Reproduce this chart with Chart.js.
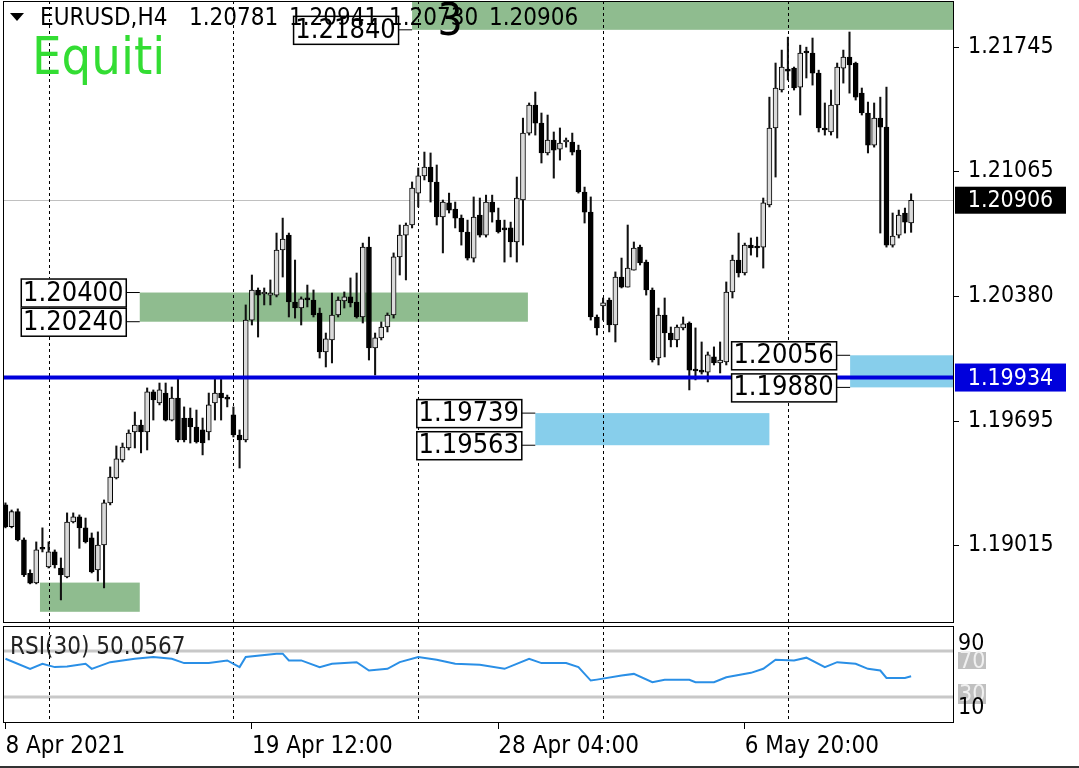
<!DOCTYPE html>
<html>
<head>
<meta charset="utf-8">
<title>EURUSD H4</title>
<script src="https://cdn.jsdelivr.net/npm/chart.js@4.4.1/dist/chart.umd.min.js"></script>
<style>
  body { margin: 0; background: #fff; }
  #wrap { position: relative; width: 1079px; height: 768px; overflow: hidden; }
  #priceChart { position: absolute; left: 0; top: 0; }
  #rsiChart { position: absolute; left: 0; top: 622px; }
</style>
</head>
<body>
<div id="wrap">
  <canvas id="priceChart" width="1079" height="624"></canvas>
  <canvas id="rsiChart" width="1079" height="146"></canvas>
</div>
<script>
const FONT = "'DejaVu Sans Condensed', 'DejaVu Sans', sans-serif";

// H4 candles, first bar is 8 Apr 2021 20:00
const opens = [1.19236, 1.19117, 1.19199, 1.19044, 1.18861, 1.18808, 1.18998, 1.18896, 1.18978, 1.18890,
  1.18841, 1.19142, 1.19170, 1.19110, 1.19055, 1.18880, 1.19016, 1.19247, 1.19384, 1.19482,
  1.19548, 1.19636, 1.19674, 1.19636, 1.19855, 1.19795, 1.19849, 1.19701, 1.19822, 1.19712,
  1.19712, 1.19663, 1.19647, 1.19636, 1.19795, 1.19849, 1.19827, 1.19729, 1.19619, 1.19592,
  1.20249, 1.20414, 1.20392, 1.20386, 1.20386, 1.20633, 1.20715, 1.20348, 1.20315, 1.20365,
  1.20359, 1.20288, 1.20074, 1.20140, 1.20277, 1.20354, 1.20376, 1.20348, 1.20266, 1.20649,
  1.20096, 1.20151, 1.20211, 1.20277, 1.20595, 1.20715, 1.20770, 1.20945, 1.21039, 1.21088,
  1.21006, 1.20814, 1.20891, 1.20858, 1.20808, 1.20732, 1.20589, 1.20825, 1.20715, 1.20896,
  1.20797, 1.20748, 1.20754, 1.20677, 1.20907, 1.21274, 1.21428, 1.21329, 1.21165, 1.21236,
  1.21186, 1.21225, 1.21225, 1.21181, 1.20951, 1.20841, 1.20266, 1.20326, 1.20359, 1.20222,
  1.20485, 1.20430, 1.20523, 1.20649, 1.20567, 1.20414, 1.20041, 1.20277, 1.20178, 1.20140,
  1.20206, 1.20233, 1.19975, 1.19970, 1.19964, 1.20047, 1.20014, 1.20019, 1.20403, 1.20578,
  1.20507, 1.20660, 1.20649, 1.20649, 1.20880, 1.21302, 1.21510, 1.21619, 1.21630, 1.21526,
  1.21724, 1.21713, 1.21603, 1.21296, 1.21280, 1.21428, 1.21630, 1.21691, 1.21658, 1.21493,
  1.21384, 1.21208, 1.21356, 1.21307, 1.20660, 1.20715, 1.20836, 1.20781];
const highs = [1.19247, 1.19208, 1.19214, 1.19055, 1.18880, 1.19033, 1.19110, 1.19033, 1.18989, 1.18945,
  1.19192, 1.19192, 1.19181, 1.19164, 1.19082, 1.19088, 1.19263, 1.19444, 1.19559, 1.19575,
  1.19647, 1.19745, 1.19701, 1.19877, 1.19866, 1.19904, 1.19904, 1.19882, 1.19932, 1.19773,
  1.19767, 1.19756, 1.19712, 1.19849, 1.19932, 1.19932, 1.19838, 1.19773, 1.19647, 1.20332,
  1.20496, 1.20425, 1.20425, 1.20469, 1.20726, 1.20808, 1.20726, 1.20578, 1.20376, 1.20441,
  1.20414, 1.20315, 1.20178, 1.20397, 1.20376, 1.20403, 1.20480, 1.20507, 1.20671, 1.20704,
  1.20178, 1.20239, 1.20288, 1.20617, 1.20770, 1.20781, 1.21006, 1.21083, 1.21170, 1.21165,
  1.21099, 1.20907, 1.20945, 1.20896, 1.20825, 1.20797, 1.20924, 1.20918, 1.20934, 1.20934,
  1.20863, 1.20797, 1.20786, 1.21033, 1.21356, 1.21439, 1.21499, 1.21384, 1.21373, 1.21280,
  1.21302, 1.21247, 1.21274, 1.21208, 1.20978, 1.20924, 1.20277, 1.20370, 1.20370, 1.20513,
  1.20589, 1.20770, 1.20677, 1.20660, 1.20578, 1.20425, 1.20315, 1.20370, 1.20211, 1.20222,
  1.20266, 1.20239, 1.20206, 1.20129, 1.20074, 1.20102, 1.20129, 1.20458, 1.20605, 1.20726,
  1.20671, 1.20699, 1.20704, 1.20918, 1.21471, 1.21658, 1.21729, 1.21800, 1.21636, 1.21756,
  1.21745, 1.21795, 1.21619, 1.21439, 1.21510, 1.21658, 1.21729, 1.21828, 1.21663, 1.21521,
  1.21444, 1.21439, 1.21471, 1.21526, 1.20836, 1.20852, 1.20863, 1.20941];
const lows = [1.19110, 1.19110, 1.19038, 1.18843, 1.18803, 1.18803, 1.18978, 1.18890, 1.18890, 1.18715,
  1.18836, 1.19137, 1.18998, 1.19027, 1.18863, 1.18819, 1.18781, 1.19236, 1.19378, 1.19471,
  1.19537, 1.19548, 1.19521, 1.19537, 1.19701, 1.19784, 1.19696, 1.19696, 1.19581, 1.19581,
  1.19575, 1.19575, 1.19510, 1.19592, 1.19701, 1.19701, 1.19773, 1.19608, 1.19438, 1.19581,
  1.20222, 1.20156, 1.20332, 1.20332, 1.20376, 1.20485, 1.20266, 1.20260, 1.20222, 1.20321,
  1.20266, 1.20041, 1.19992, 1.20014, 1.20266, 1.20315, 1.20321, 1.20260, 1.20233, 1.20030,
  1.19948, 1.20140, 1.20184, 1.20260, 1.20496, 1.20469, 1.20754, 1.20869, 1.21017, 1.20896,
  1.20770, 1.20617, 1.20836, 1.20754, 1.20660, 1.20578, 1.20567, 1.20704, 1.20704, 1.20786,
  1.20726, 1.20567, 1.20595, 1.20567, 1.20660, 1.21263, 1.21263, 1.21110, 1.21154, 1.21027,
  1.21126, 1.21197, 1.21154, 1.20945, 1.20781, 1.20249, 1.20167, 1.20249, 1.20184, 1.20129,
  1.20425, 1.20430, 1.20523, 1.20551, 1.20386, 1.20019, 1.20003, 1.20047, 1.20102, 1.20102,
  1.20195, 1.19866, 1.19921, 1.19953, 1.19910, 1.20003, 1.19959, 1.20003, 1.20370, 1.20485,
  1.20496, 1.20605, 1.20595, 1.20534, 1.20869, 1.21033, 1.21499, 1.21565, 1.21510, 1.21373,
  1.21576, 1.21537, 1.21280, 1.21263, 1.21263, 1.21247, 1.21548, 1.21493, 1.21455, 1.21373,
  1.21165, 1.21197, 1.20726, 1.20649, 1.20649, 1.20699, 1.20726, 1.20730];
const closes = [1.19115, 1.19199, 1.19044, 1.18852, 1.18807, 1.18989, 1.18993, 1.18978, 1.18907, 1.18852,
  1.19142, 1.19170, 1.19110, 1.19033, 1.18869, 1.19016, 1.19247, 1.19389, 1.19488, 1.19553,
  1.19630, 1.19674, 1.19636, 1.19855, 1.19811, 1.19866, 1.19701, 1.19822, 1.19592, 1.19592,
  1.19663, 1.19581, 1.19575, 1.19784, 1.19849, 1.19822, 1.19816, 1.19619, 1.19592, 1.20249,
  1.20414, 1.20386, 1.20397, 1.20397, 1.20633, 1.20693, 1.20348, 1.20315, 1.20365, 1.20360,
  1.20277, 1.20074, 1.20146, 1.20277, 1.20359, 1.20376, 1.20343, 1.20266, 1.20649, 1.20096,
  1.20151, 1.20211, 1.20277, 1.20595, 1.20715, 1.20770, 1.20973, 1.21039, 1.21088, 1.21006,
  1.20814, 1.20896, 1.20852, 1.20808, 1.20732, 1.20589, 1.20814, 1.20715, 1.20896, 1.20841,
  1.20732, 1.20743, 1.20677, 1.20918, 1.21274, 1.21428, 1.21329, 1.21165, 1.21236, 1.21181,
  1.21219, 1.21230, 1.21170, 1.20951, 1.20841, 1.20266, 1.20206, 1.20343, 1.20222, 1.20485,
  1.20430, 1.20534, 1.20644, 1.20562, 1.20414, 1.20030, 1.20277, 1.20178, 1.20140, 1.20211,
  1.20228, 1.19975, 1.19970, 1.19964, 1.20058, 1.20014, 1.20030, 1.20403, 1.20578, 1.20507,
  1.20660, 1.20644, 1.20644, 1.20891, 1.21302, 1.21521, 1.21636, 1.21614, 1.21521, 1.21713,
  1.21713, 1.21603, 1.21302, 1.21291, 1.21428, 1.21636, 1.21691, 1.21647, 1.21471, 1.21384,
  1.21208, 1.21356, 1.21307, 1.20660, 1.20710, 1.20825, 1.20786, 1.20906];

// right price scale
const priceTicks = [1.19015, 1.19695, 1.20380, 1.21065, 1.21745];
const bidPrice = 1.20906;
const linePrice = 1.19934;

// bar numbers of the week separators and the dated ticks
const weekStarts = [7, 37, 67, 97, 127];
const dateTicks = [0, 40, 80, 120];
const dateLabels = ['8 Apr 2021', '19 Apr 12:00', '28 Apr 04:00', '6 May 20:00'];

// zones drawn on the chart (start bar, end bar, top, bottom)
const zoneStart = [66, 21.8, 5.6, 86, 137.1];
const zoneEnd = [160, 84.8, 21.8, 124, 160];
const zoneTop = [1.22100, 1.20400, 1.18810, 1.19739, 1.20056];
const zoneBottom = [1.21840, 1.20240, 1.18650, 1.19563, 1.19880];
const zoneKind = ['supply', 'supply', 'supply', 'demand', 'demand'];
const zoneLabels = [[1.21840], [1.20400, 1.20240], [], [1.19739, 1.19563], [1.20056, 1.19880]];

// RSI(30), read at these bars
const rsiBars = [0, 4, 6, 8, 10, 13, 14, 17, 21, 24, 27, 29, 33, 36, 38, 39, 44, 45, 46, 48,
  51, 53, 57, 59, 62, 64, 67, 70, 73, 77, 81, 85, 87, 91, 93, 95, 96, 100, 102, 105,
  107, 111, 112, 115, 117, 121, 123, 125, 128, 130, 133, 135, 138, 140, 142, 143, 146, 147];
const rsiValues = [63.3, 54.5, 58.9, 56.0, 56.5, 58.9, 54.5, 60.3, 63.3, 64.8, 63.3, 59.5, 59.5, 61.8, 56.0, 64.8, 67.7, 67.7, 61.8, 61.8,
  56.0, 58.9, 60.3, 53.0, 54.5, 60.3, 64.8, 62.4, 58.9, 58.0, 54.5, 63.3, 59.5, 59.5, 56.0, 44.3, 45.1, 48.6, 50.1, 42.8,
  44.9, 44.9, 42.8, 42.8, 47.2, 51.0, 54.5, 62.4, 61.8, 64.2, 56.0, 60.3, 58.9, 54.5, 53.0, 46.6, 46.6, 48.0];
const rsiLevels = [70, 30];
const rsiTitle = 'RSI(30) 50.0567';

const X_MIN = -0.4, X_MAX = 153.8;

// candles = a thin bar for the wick and a fat bar for the body
const bars = opens.map((_, i) => i);
const wickSet = {
  data: bars.map(i => ({ x: i, y: [lows[i], highs[i]] })),
  backgroundColor: '#111', barThickness: 1.4, grouped: false, order: 2
};
const bodySet = {
  data: bars.map(i => ({ x: i, y: [opens[i], closes[i]] })),
  backgroundColor: bars.map(i => closes[i] > opens[i] ? '#dadada' : '#000000'),
  borderColor: '#000', borderWidth: 1, borderSkipped: false,
  barThickness: 5, minBarLength: 2, grouped: false, order: 1
};

function priceBox(ctx, text, x, yc, w, h, bg, fg, size, border) {
  ctx.fillStyle = bg;
  ctx.fillRect(x, yc - h / 2, w, h);
  if (border) {
    ctx.strokeStyle = '#000'; ctx.lineWidth = 1.5;
    ctx.strokeRect(x + 0.5, yc - h / 2 + 0.5, w, h);
  }
  ctx.fillStyle = fg;
  ctx.font = size + 'px ' + FONT;
  ctx.textBaseline = 'middle';
  ctx.textAlign = 'center';
  ctx.fillText(text, x + w / 2, yc + 1);
}

const priceOverlay = {
  id: 'priceOverlay',
  beforeDatasetsDraw(chart) {
    const { ctx, chartArea: a, scales: { x, y } } = chart;
    ctx.save();
    ctx.beginPath();
    ctx.rect(a.left, a.top, a.right - a.left, a.bottom - a.top);
    ctx.clip();
    zoneStart.forEach((s, i) => {
      const x1 = x.getPixelForValue(s), x2 = x.getPixelForValue(zoneEnd[i]);
      const y1 = y.getPixelForValue(zoneTop[i]), y2 = y.getPixelForValue(zoneBottom[i]);
      ctx.fillStyle = zoneKind[i] === 'supply' ? '#8fbc8f' : '#87ceeb';
      ctx.fillRect(x1, y1, x2 - x1, y2 - y1);
    });
    const by = Math.round(y.getPixelForValue(bidPrice)) + 0.5;
    ctx.strokeStyle = '#c0c0c0'; ctx.lineWidth = 1;
    ctx.beginPath(); ctx.moveTo(a.left, by); ctx.lineTo(a.right, by); ctx.stroke();
    ctx.strokeStyle = '#000'; ctx.setLineDash([3, 3]);
    weekStarts.forEach(w => {
      const px = Math.round(x.getPixelForValue(w)) + 0.5;
      ctx.beginPath(); ctx.moveTo(px, a.top); ctx.lineTo(px, a.bottom); ctx.stroke();
    });
    ctx.restore();
  },
  afterDatasetsDraw(chart) {
    const { ctx, chartArea: a, scales: { x, y } } = chart;
    ctx.save();
    // blue level line
    const ly = y.getPixelForValue(linePrice);
    ctx.strokeStyle = '#0000dc'; ctx.lineWidth = 4;
    ctx.beginPath(); ctx.moveTo(a.left, ly); ctx.lineTo(a.right, ly); ctx.stroke();

    // zone price labels
    zoneLabels.forEach((prices, i) => {
      const zx = x.getPixelForValue(zoneStart[i]);
      prices.forEach(p => {
        const py = y.getPixelForValue(p);
        ctx.strokeStyle = '#000'; ctx.lineWidth = 1;
        ctx.beginPath(); ctx.moveTo(zx - 14, py); ctx.lineTo(zx, py); ctx.stroke();
        priceBox(ctx, p.toFixed(5), zx - 119, py, 105, 28, '#fff', '#000', 27, true);
      });
    });

    // frame
    ctx.strokeStyle = '#000'; ctx.lineWidth = 1;
    ctx.strokeRect(a.left + 0.5, a.top + 0.5, a.right - a.left, a.bottom - a.top);

    // price tags on the right
    priceBox(ctx, bidPrice.toFixed(5), a.right + 2, y.getPixelForValue(bidPrice), 111, 27, '#000', '#fff', 23, false);
    priceBox(ctx, linePrice.toFixed(5), a.right + 2, ly, 111, 28, '#0000dc', '#fff', 23, false);

    // symbol line
    const last = opens.length - 1;
    ctx.fillStyle = '#000';
    ctx.beginPath(); ctx.moveTo(10, 13); ctx.lineTo(24, 13); ctx.lineTo(17, 21); ctx.closePath(); ctx.fill();
    ctx.font = '24px ' + FONT; ctx.textAlign = 'left'; ctx.textBaseline = 'middle';
    ctx.fillText('EURUSD,H4', 40, 19);
    [opens[last], highs[last], lows[last], closes[last]].forEach((v, k) => {
      ctx.fillText(v.toFixed(5), 189 + k * 100, 19);
    });
    ctx.font = '44px ' + FONT; ctx.textAlign = 'center';
    ctx.fillText('3', 450, 24);
    ctx.fillStyle = '#33dd33'; ctx.font = '52px ' + FONT; ctx.textAlign = 'left';
    ctx.fillText('Equiti', 32, 60);
    ctx.restore();
  }
};

new Chart(document.getElementById('priceChart'), {
  type: 'bar',
  data: { datasets: [wickSet, bodySet] },
  options: {
    responsive: false, animation: false, devicePixelRatio: 1,
    layout: { padding: { left: 3, top: 1, right: 0, bottom: 2 } },
    plugins: { legend: { display: false }, tooltip: { enabled: false } },
    scales: {
      x: { type: 'linear', min: X_MIN, max: X_MAX, offset: false, display: false },
      y: {
        type: 'linear', position: 'right', min: 1.18594, max: 1.21998, beginAtZero: false,
        afterBuildTicks: s => { s.ticks = priceTicks.map(v => ({ value: v })); },
        afterFit: s => { s.width = 126; s.paddingTop = 0; s.paddingBottom = 0; },
        grid: { drawOnChartArea: false, tickLength: 6, color: '#000' },
        border: { display: true, color: '#000' },
        ticks: { font: { family: FONT, size: 23 }, color: '#000', padding: 9, callback: v => v.toFixed(5) }
      }
    }
  },
  plugins: [priceOverlay]
});

const rsiOverlay = {
  id: 'rsiOverlay',
  beforeDatasetsDraw(chart) {
    const { ctx, chartArea: a, scales: { x, y } } = chart;
    ctx.save();
    ctx.strokeStyle = '#c8c8c8'; ctx.lineWidth = 3;
    rsiLevels.forEach(l => {
      const py = y.getPixelForValue(l);
      ctx.beginPath(); ctx.moveTo(a.left, py); ctx.lineTo(a.right, py); ctx.stroke();
    });
    ctx.strokeStyle = '#000'; ctx.lineWidth = 1; ctx.setLineDash([3, 3]);
    weekStarts.forEach(w => {
      const px = Math.round(x.getPixelForValue(w)) + 0.5;
      ctx.beginPath(); ctx.moveTo(px, a.top); ctx.lineTo(px, a.bottom); ctx.stroke();
    });
    ctx.restore();
  },
  afterDraw(chart) {
    const { ctx, chartArea: a, scales: { y } } = chart;
    ctx.save();
    ctx.strokeStyle = '#000'; ctx.lineWidth = 1;
    ctx.strokeRect(a.left + 0.5, a.top + 0.5, a.right - a.left, a.bottom - a.top);
    ctx.fillStyle = '#222'; ctx.font = '24px ' + FONT;
    ctx.textAlign = 'left'; ctx.textBaseline = 'middle';
    ctx.fillText(rsiTitle, 10, 26);
    // level tags and scale marks on the right
    const y70 = y.getPixelForValue(rsiLevels[0]), y30 = y.getPixelForValue(rsiLevels[1]);
    ctx.fillStyle = '#c0c0c0';
    ctx.fillRect(a.right + 5, y70 + 1, 28, 17);
    ctx.fillRect(a.right + 5, y30 - 13, 28, 20);
    ctx.fillStyle = '#f0f0f0'; ctx.font = '23px ' + FONT;
    ctx.fillText(String(rsiLevels[0]), a.right + 6, y70 + 11);
    ctx.fillText(String(rsiLevels[1]), a.right + 6, y30 - 2);
    ctx.fillStyle = '#000';
    ctx.fillText('90', a.right + 5, a.top + 18);
    ctx.fillText('10', a.right + 5, a.bottom - 14);
    // bottom edge of the window
    ctx.strokeStyle = '#333'; ctx.lineWidth = 2;
    ctx.beginPath(); ctx.moveTo(0, 145); ctx.lineTo(1079, 145); ctx.stroke();
    ctx.restore();
  }
};

new Chart(document.getElementById('rsiChart'), {
  type: 'line',
  data: {
    datasets: [{
      data: rsiBars.map((b, i) => ({ x: b, y: rsiValues[i] })),
      borderColor: '#2a8fe6', borderWidth: 2, pointRadius: 0, tension: 0
    }]
  },
  options: {
    responsive: false, animation: false, devicePixelRatio: 1,
    layout: { padding: { left: 3, top: 4, right: 126, bottom: 0 } },
    plugins: { legend: { display: false }, tooltip: { enabled: false } },
    scales: {
      x: {
        type: 'linear', min: X_MIN, max: X_MAX, position: 'bottom',
        afterBuildTicks: s => { s.ticks = dateTicks.map(v => ({ value: v })); },
        afterFit: s => { s.height = 46; s.paddingLeft = 0; s.paddingRight = 0; },
        grid: { drawOnChartArea: false, tickLength: 7, color: '#000' },
        border: { display: true, color: '#000' },
        ticks: {
          font: { family: FONT, size: 24 }, color: '#000', padding: 3, align: 'start',
          maxRotation: 0, minRotation: 0, autoSkip: false,
          callback: v => dateLabels[dateTicks.indexOf(v)]
        }
      },
      y: { display: false, min: 8.26, max: 91.74 }
    }
  },
  plugins: [rsiOverlay]
});
</script>
</body>
</html>
